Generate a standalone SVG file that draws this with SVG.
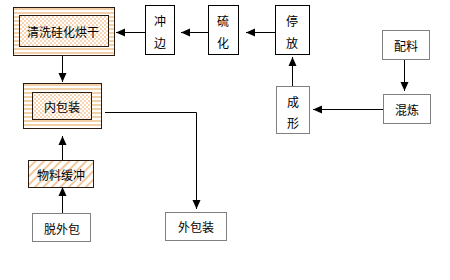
<svg xmlns="http://www.w3.org/2000/svg" width="450" height="280" viewBox="0 0 450 280">
<defs>
<pattern id="stripes" width="4" height="4" patternUnits="userSpaceOnUse">
<rect width="4" height="4" fill="#ffffff"/>
<rect y="0" width="4" height="2" fill="#f3cfa8"/>
</pattern>
<pattern id="checker" width="4" height="4" patternUnits="userSpaceOnUse">
<rect width="4" height="4" fill="#ffffff"/>
<rect width="2" height="2" fill="#f6d6b4"/>
<rect x="2" y="2" width="2" height="2" fill="#f6d6b4"/>
</pattern>
<pattern id="diag" width="6" height="6" patternUnits="userSpaceOnUse" patternTransform="rotate(45)">
<rect width="6" height="6" fill="#ffffff"/>
<rect width="2" height="6" fill="#f0c89c"/>
</pattern>
<marker id="arr" markerWidth="10" markerHeight="10" refX="9" refY="5" orient="auto" markerUnits="userSpaceOnUse">
<path d="M0,1 L9,5 L0,9 z" fill="#000"/>
</marker>
</defs>
<style>
text{font-family:"Noto Sans CJK SC","Liberation Sans",sans-serif;font-size:12px;fill:#000;text-anchor:middle;dominant-baseline:central}
.solid{fill:#fff;stroke:#000;stroke-width:1}
.dot{fill:#fff;stroke:#000;stroke-width:1;stroke-dasharray:1 1}
.outer{fill:url(#stripes);stroke:#2a1a10;stroke-width:1}
.inner{fill:url(#checker);stroke:#2a1a10;stroke-width:1}
.hatch{fill:url(#diag);stroke:#2a1a10;stroke-width:1}
.ln{fill:none;stroke:#000;stroke-width:1;marker-end:url(#arr)}
</style>
<rect width="450" height="280" fill="#fff"/>
<g id="qingxi">
<rect class="outer" x="13.5" y="7.5" width="101" height="48"/>
<rect class="inner" x="19.5" y="15.5" width="89" height="31"/>
<text x="63" y="31">清洗硅化烘干</text>
</g>
<g id="chongbian">
<rect class="solid" x="145.5" y="5.5" width="29" height="49"/>
<text x="160" y="20">冲</text>
<text x="160" y="42">边</text>
</g>
<g id="liuhua">
<rect class="solid" x="208.5" y="5.5" width="30" height="49"/>
<text x="223" y="20">硫</text>
<text x="223" y="42">化</text>
</g>
<g id="tingfang">
<rect class="solid" x="275.5" y="5.5" width="34" height="49"/>
<text x="292" y="20">停</text>
<text x="292" y="42">放</text>
</g>
<g id="peiliao">
<rect class="dot" x="382.5" y="30.5" width="47" height="29"/>
<text x="406" y="45">配料</text>
</g>
<g id="hunlian">
<rect class="dot" x="383.5" y="94.5" width="47" height="29"/>
<text x="407" y="109">混炼</text>
</g>
<g id="chengxing">
<rect class="dot" x="276.5" y="86.5" width="33" height="47"/>
<text x="293" y="101">成</text>
<text x="293" y="122">形</text>
</g>
<g id="neibaozhuang">
<rect class="outer" x="23.5" y="83.5" width="78" height="45"/>
<rect class="inner" x="32.5" y="92.5" width="59" height="27"/>
<text x="62" y="106">内包装</text>
</g>
<g id="wuliao">
<rect class="hatch" x="28.5" y="160.5" width="65" height="27"/>
<text x="61" y="174">物料缓冲</text>
</g>
<g id="tuowaibao">
<rect class="dot" x="32.5" y="213.5" width="58" height="28"/>
<text x="62" y="228">脱外包</text>
</g>
<g id="waibaozhuang">
<rect class="dot" x="165.5" y="212.5" width="61" height="28"/>
<text x="196" y="226">外包装</text>
</g>
<g id="connectors">
<line class="ln" x1="62.5" y1="56" x2="62.5" y2="82"/>
<line class="ln" x1="145" y1="32.5" x2="116" y2="32.5"/>
<line class="ln" x1="208" y1="32.5" x2="181" y2="32.5"/>
<line class="ln" x1="275" y1="32.5" x2="246" y2="32.5"/>
<line class="ln" x1="404.5" y1="60" x2="404.5" y2="91"/>
<line class="ln" x1="383" y1="109.5" x2="313" y2="109.5"/>
<line class="ln" x1="292.5" y1="86" x2="292.5" y2="57"/>
<polyline class="ln" points="105,112.5 196.5,112.5 196.5,209"/>
<line class="ln" x1="62.5" y1="160" x2="62.5" y2="136"/>
<line class="ln" x1="62.5" y1="213" x2="62.5" y2="187"/>
</g>
</svg>
